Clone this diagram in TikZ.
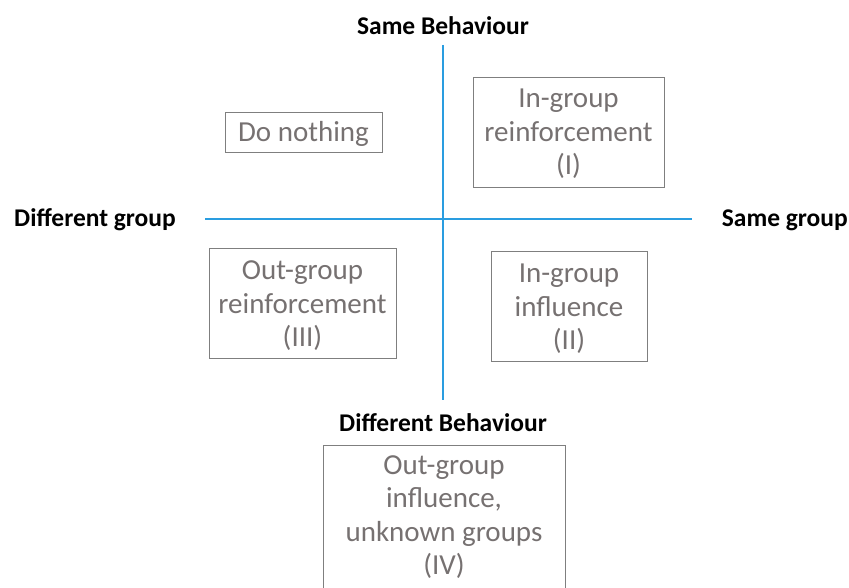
\documentclass[tikz,border=0pt]{standalone}
\usepackage{fontspec}
\setmainfont{Carlito}
\definecolor{axisblue}{HTML}{2A9DE0}
\definecolor{boxgray}{HTML}{767171}
\definecolor{edgegray}{HTML}{7F7F7F}
\tikzset{
  axis/.style={draw=axisblue, line width=1.6pt},
  quadtext/.style={text=boxgray, align=center,
    font=\fontsize{29}{33.5}\selectfont, inner sep=0pt},
  quad/.style={draw=edgegray, line width=0.9pt},
  axlabel/.style={font=\fontsize{25.5}{30}\selectfont\bfseries, text=black, inner sep=0pt}
}
\begin{document}
\begin{tikzpicture}[x=1pt, y=-1pt]
  \useasboundingbox (0,0) rectangle (849,588);
  \clip (0,0) rectangle (849,588);
  % axes
  \coordinate (vtop) at (443,45);
  \coordinate (vbot) at (443,400);
  \coordinate (hl) at (205,219);
  \coordinate (hr) at (692,219);
  \draw[axis] (vtop) -- (vbot);
  \draw[axis] (hl) -- (hr);
  % axis labels
  \node[axlabel] (same-beh) at (443,26) {Same Behaviour};
  \node[axlabel] (diff-beh) at (443,423) {Different Behaviour};
  \node[axlabel, anchor=west] (diff-grp) at (14,220) {Different group};
  \node[axlabel, anchor=east] (same-grp) at (848,220) {Same group};
  % quadrant boxes
  \draw[quad] (225,112) rectangle (382,152);
  \node[quadtext] (nothing) at (303.5,134) {Do nothing};
  \draw[quad] (473,77) rectangle (664,187);
  \node[quadtext] (q1) at (568.5,134) {In-group\\reinforcement\\(I)};
  \draw[quad] (209,248) rectangle (396,358);
  \node[quadtext] (q3) at (302.5,306) {Out-group\\reinforcement\\(III)};
  \draw[quad] (491,251) rectangle (647,361);
  \node[quadtext] (q2) at (569,309) {In-group\\influence\\(II)};
  % box IV runs past the lower edge
  \draw[quad] (323,600) |- (565,445) -- (565,600);
  \node[quadtext, anchor=north] (q4) at (444,455)
    {Out-group\\influence,\\unknown groups\\(IV)};
\end{tikzpicture}
\end{document}
